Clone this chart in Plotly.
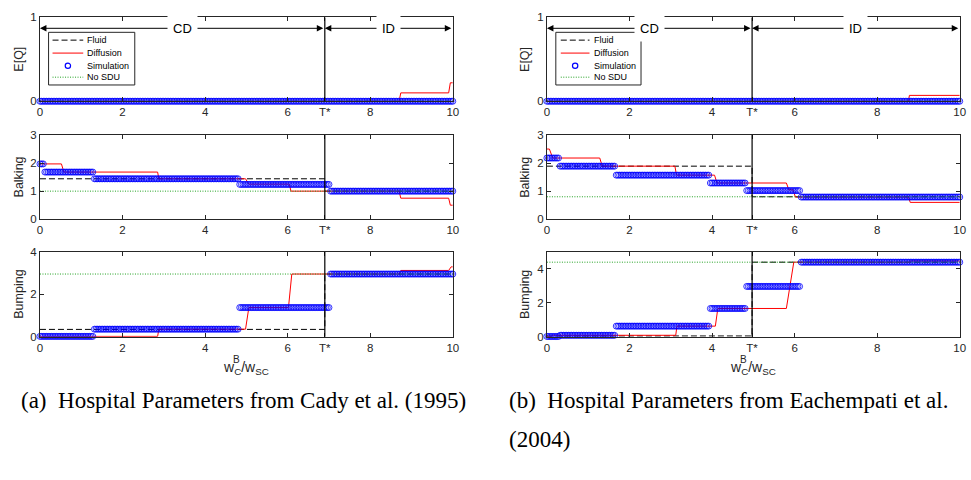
import numpy as np
import plotly.graph_objects as go

W, H = 971, 480
FONT = "Liberation Sans, Arial, sans-serif"
SERIF = "Liberation Serif, Times New Roman, serif"
AX = "#262626"
C_FLUID = "black"
C_DIFF = "#ff0000"
C_SIM = "#0000ff"
C_NOSDU = "#20a020"

# ------------------------------------------------------------------ data
legend_names = ["Fluid", "Diffusion", "Simulation", "No SDU"]
row_titles = ["E[Q]", "Balking", "Bumping"]
x_ticks = [0, 2, 4, 6, 8, 10]

# ---- panel (a): Cady et al. (1995)
a_tstar = 6.9
a_yranges = [[0, 1], [0, 3], [0, 4]]
a_yticks = [[0, 1], [0, 1, 2, 3], [0, 2, 4]]
a_sim_breaks = [0, 0.1, 1.31, 4.84, 7.01, 10]
a_sim_eq = [0, 0, 0, 0, 0]
a_sim_balk = [1.97, 1.68, 1.44, 1.24, 1.0]
a_sim_bump = [0.02, 0.02, 0.36, 1.38, 2.96]
a_fluid_eq = [0, 0]
a_fluid_balk = [1.44, 1.0]
a_fluid_bump = [0.35, 2.96]
a_nosdu_eq, a_nosdu_balk, a_nosdu_bump = 0.0, 1.0, 2.96
a_diff_eq_x = [0, 8.70, 8.74, 9.90, 9.94, 10]
a_diff_eq_y = [0, 0, 0.10, 0.10, 0.22, 0.22]
a_diff_balk_x = [0, 0.52, 0.58, 2.85, 2.88, 4.98, 5.06, 6.04, 6.08, 8.70, 8.74, 9.90, 9.94, 10]
a_diff_balk_y = [1.97, 1.97, 1.68, 1.68, 1.44, 1.44, 1.25, 1.25, 1.0, 1.0, 0.75, 0.75, 0.5, 0.5]
a_diff_bump_x = [0, 2.85, 2.88, 4.98, 5.06, 6.02, 6.10, 8.70, 8.74, 9.90, 9.96, 10]
a_diff_bump_y = [0.02, 0.02, 0.36, 0.36, 1.38, 1.38, 2.96, 2.96, 3.13, 3.13, 3.3, 3.3]

# ---- panel (b): Eachempati et al. (2004)
b_tstar = 4.97
b_yranges = [[0, 1], [0, 3], [0, 5]]
b_yticks = [[0, 1], [0, 1, 2, 3], [0, 2, 4]]
b_sim_breaks = [0, 0.31, 1.65, 3.96, 4.84, 6.16, 10]
b_sim_eq = [0, 0, 0, 0, 0, 0]
b_sim_balk = [2.18, 1.89, 1.57, 1.29, 1.02, 0.79]
b_sim_bump = [0.02, 0.09, 0.63, 1.67, 2.97, 4.4]
b_fluid_eq = [0, 0]
b_fluid_balk = [1.89, 0.8]
b_fluid_bump = [0.05, 4.4]
b_nosdu_eq, b_nosdu_balk, b_nosdu_bump = 0.0, 0.8, 4.4
b_diff_eq_x = [0, 8.76, 8.78, 10]
b_diff_eq_y = [0, 0, 0.07, 0.07]
b_diff_balk_x = [0, 0.06, 0.14, 1.28, 1.34, 3.10, 3.14, 4.06, 4.12, 5.80, 5.86, 5.96, 6.02, 8.76, 8.80, 10]
b_diff_balk_y = [2.5, 2.5, 2.18, 2.18, 1.89, 1.89, 1.57, 1.57, 1.29, 1.29, 1.05, 1.05, 0.79, 0.79, 0.6, 0.6]
b_diff_bump_x = [0, 0.10, 0.14, 3.12, 3.15, 4.08, 4.14, 5.80, 5.98, 8.78, 8.80, 10]
b_diff_bump_y = [0.02, 0.02, 0.09, 0.09, 0.63, 0.63, 1.67, 1.67, 4.4, 4.4, 4.47, 4.47]

captions = ["(a)\u00a0\u00a0Hospital Parameters from Cady et al. (1995)",
            "(b)\u00a0\u00a0Hospital Parameters from Eachempati et al.",
            "(2004)"]

sim_grid_step = 0.04

# ------------------------------------------------------------------ layout geometry (pixels)
def px_x(p):
    return p / W

def px_y(p):
    return 1 - p / H

x_dom = {"a": [px_x(37.3), px_x(454.0)], "b": [px_x(549.0), px_x(965.7)]}
y_dom = [[px_y(97.7), px_y(11.7)], [px_y(218.7), px_y(132.3)], [px_y(339.3), px_y(252.3)]]

fig = go.Figure()
layout = dict(
    width=W, height=H, margin=dict(l=0, r=0, t=0, b=0),
    paper_bgcolor="white", plot_bgcolor="white", showlegend=False,
    font=dict(family=FONT, color=AX),
)
shapes, annotations = [], []

FLUID_DASH = "6px,3px"
NOSDU_DASH = "1px,1.5px"


def step_values(xs, breaks, levels):
    idx = np.searchsorted(np.array(breaks), xs, side="right") - 1
    idx = np.clip(idx, 0, len(levels) - 1)
    return np.array(levels)[idx]


panels = {
    "a": dict(t=a_tstar, yr=a_yranges, yt=a_yticks, br=a_sim_breaks,
              sim=[a_sim_eq, a_sim_balk, a_sim_bump],
              fluid=[a_fluid_eq, a_fluid_balk, a_fluid_bump],
              nosdu=[a_nosdu_eq, a_nosdu_balk, a_nosdu_bump],
              diff=[(a_diff_eq_x, a_diff_eq_y), (a_diff_balk_x, a_diff_balk_y), (a_diff_bump_x, a_diff_bump_y)],
              ylab_px=16.5, leg=(46, 133, 50, 81, 83)),
    "b": dict(t=b_tstar, yr=b_yranges, yt=b_yticks, br=b_sim_breaks,
              sim=[b_sim_eq, b_sim_balk, b_sim_bump],
              fluid=[b_fluid_eq, b_fluid_balk, b_fluid_bump],
              nosdu=[b_nosdu_eq, b_nosdu_balk, b_nosdu_bump],
              diff=[(b_diff_eq_x, b_diff_eq_y), (b_diff_balk_x, b_diff_balk_y), (b_diff_bump_x, b_diff_bump_y)],
              ylab_px=527.5, leg=(558, 644, 563, 592, 595)),
}

sim_x = np.round(np.arange(0, 10 + 1e-9, sim_grid_step), 4)

n = 0
for key in ["a", "b"]:
    P = panels[key]
    tstar = P["t"]
    tickvals = sorted(x_ticks + [tstar])
    ticktext = ["T*" if v == tstar else str(v) for v in tickvals]
    for r in range(3):
        n += 1
        suffix = "" if n == 1 else str(n)
        xa, ya = "x" + suffix, "y" + suffix
        xname, yname = "xaxis" + suffix, "yaxis" + suffix
        common = dict(showline=True, linecolor=AX, linewidth=1, mirror="ticks",
                      ticks="inside", ticklen=4, tickwidth=1, tickcolor=AX,
                      showgrid=False, zeroline=False, fixedrange=True,
                      tickfont=dict(family=FONT, size=11.5, color=AX))
        layout[xname] = dict(domain=x_dom[key], anchor=ya, range=[0, 10],
                             tickmode="array", tickvals=tickvals, ticktext=ticktext, **common)
        layout[yname] = dict(domain=y_dom[r], anchor=xa, range=P["yr"][r],
                             tickmode="array", tickvals=P["yt"][r], **common)

        # Fluid
        fl = P["fluid"][r]
        fig.add_trace(go.Scatter(x=[0, tstar, 10], y=[fl[0], fl[1], fl[1]], mode="lines",
                                 line=dict(color=C_FLUID, width=1, dash=FLUID_DASH, shape="hv"),
                                 xaxis=xa, yaxis=ya, name=legend_names[0]))
        # Diffusion
        dx, dy = P["diff"][r]
        fig.add_trace(go.Scatter(x=dx, y=dy, mode="lines",
                                 line=dict(color=C_DIFF, width=1),
                                 xaxis=xa, yaxis=ya, name=legend_names[1]))
        # Simulation
        fig.add_trace(go.Scatter(x=sim_x, y=step_values(sim_x, P["br"], P["sim"][r]),
                                 mode="markers", cliponaxis=False,
                                 marker=dict(symbol="circle-open", size=6, color=C_SIM,
                                             line=dict(width=0.8, color=C_SIM)),
                                 xaxis=xa, yaxis=ya, name=legend_names[2]))
        # No SDU
        ns = P["nosdu"][r]
        fig.add_trace(go.Scatter(x=[0, 10], y=[ns, ns], mode="lines",
                                 line=dict(color=C_NOSDU, width=1, dash=NOSDU_DASH),
                                 xaxis=xa, yaxis=ya, name=legend_names[3]))
        # T* line
        shapes.append(dict(type="line", xref=xa, yref=f"{ya} domain", x0=tstar, x1=tstar,
                           y0=0, y1=1, line=dict(color="black", width=1.2)))
        # y label
        annotations.append(dict(text=row_titles[r], x=px_x(P["ylab_px"]),
                                y=(y_dom[r][0] + y_dom[r][1]) / 2, xref="paper", yref="paper",
                                textangle=-90, showarrow=False, xanchor="center", yanchor="middle",
                                font=dict(family=FONT, size=12.5, color=AX)))
        if r == 0:
            ya_arrow = 0.87
            for (x0, x1, lab) in [(0, tstar, "CD"), (tstar, 10, "ID")]:
                annotations.append(dict(text="", x=x0, y=ya_arrow, ax=x1, ay=ya_arrow,
                                        xref=xa, yref=ya, axref=xa, ayref=ya,
                                        showarrow=True, arrowhead=2, startarrowhead=2,
                                        arrowside="end+start", arrowsize=1.3, startarrowsize=1.3,
                                        arrowwidth=1, arrowcolor="black", standoff=0, startstandoff=0))
                annotations.append(dict(text=lab, x=(x0 + x1) / 2, y=ya_arrow, xref=xa, yref=ya,
                                        showarrow=False, bgcolor="white", borderpad=5,
                                        font=dict(family=FONT, size=13, color="black")))

    # legend (drawn manually)
    lx0, lx1, sx0, sx1, tx = P["leg"]
    shapes.append(dict(type="rect", xref="paper", yref="paper", x0=px_x(lx0), x1=px_x(lx1),
                       y0=px_y(81), y1=px_y(27), line=dict(color=AX, width=1), fillcolor="white"))
    rows_px = [35, 48.3, 61.3, 73]
    for i, nm in enumerate(legend_names):
        yy = px_y(rows_px[i])
        if i == 0:
            shapes.append(dict(type="line", xref="paper", yref="paper", x0=px_x(sx0), x1=px_x(sx1),
                               y0=yy, y1=yy, line=dict(color=C_FLUID, width=1, dash=FLUID_DASH)))
        elif i == 1:
            shapes.append(dict(type="line", xref="paper", yref="paper", x0=px_x(sx0), x1=px_x(sx1),
                               y0=yy, y1=yy, line=dict(color=C_DIFF, width=1)))
        elif i == 2:
            cx = (sx0 + sx1) / 2
            shapes.append(dict(type="circle", xref="paper", yref="paper",
                               x0=px_x(cx - 2.7), x1=px_x(cx + 2.7),
                               y0=px_y(rows_px[i] + 2.7), y1=px_y(rows_px[i] - 2.7),
                               line=dict(color=C_SIM, width=1.2)))
        else:
            shapes.append(dict(type="line", xref="paper", yref="paper", x0=px_x(sx0), x1=px_x(sx1),
                               y0=yy, y1=yy, line=dict(color=C_NOSDU, width=1, dash=NOSDU_DASH)))
        annotations.append(dict(text=nm, x=px_x(tx), y=yy, xref="paper", yref="paper",
                                xanchor="left", yanchor="middle", showarrow=False,
                                font=dict(family=FONT, size=9, color="black")))

    # x label  w_C^B / w_SC
    xc = (x_dom[key][0] + x_dom[key][1]) / 2
    annotations.append(dict(text="w<sub>C</sub>/w<sub>SC</sub>", x=xc, y=px_y(371),
                            xref="paper", yref="paper", showarrow=False,
                            xanchor="center", yanchor="middle",
                            font=dict(family=FONT, size=14, color=AX)))
    annotations.append(dict(text="B", x=xc - px_x(9.5), y=px_y(363),
                            xref="paper", yref="paper", showarrow=False,
                            xanchor="center", yanchor="middle",
                            font=dict(family=FONT, size=10, color=AX)))

# captions
cap_font = dict(family=SERIF, size=23, color="black")
annotations.append(dict(text=captions[0], x=px_x(16), y=px_y(405), xref="paper", yref="paper",
                        xanchor="left", yanchor="middle", showarrow=False, font=cap_font))
annotations.append(dict(text=captions[1], x=px_x(509), y=px_y(405), xref="paper", yref="paper",
                        xanchor="left", yanchor="middle", showarrow=False, font=cap_font))
annotations.append(dict(text=captions[2], x=px_x(509), y=px_y(445), xref="paper", yref="paper",
                        xanchor="left", yanchor="middle", showarrow=False, font=cap_font))

layout["shapes"] = shapes
layout["annotations"] = annotations
fig.update_layout(**layout)
fig.write_html("out.html")
